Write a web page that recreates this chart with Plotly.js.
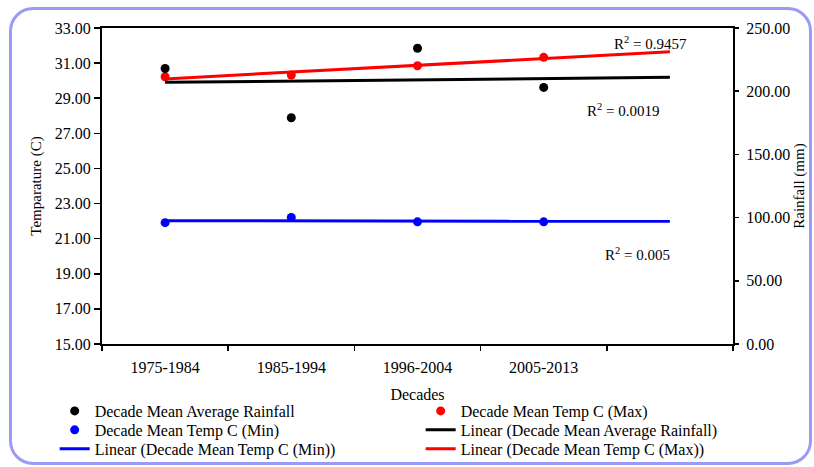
<!DOCTYPE html>
<html>
<head>
<meta charset="utf-8">
<script src="https://cdn.plot.ly/plotly-3.0.1.min.js"></script>
<style>
  html, body { margin: 0; padding: 0; background: #ffffff; }
  #wrap { position: relative; width: 814px; height: 467px; overflow: hidden; }
  #frame { position: absolute; left: 9px; top: 7px; width: 797px; height: 452px;
           border: 3px solid #9b9bf7; border-radius: 24px; box-sizing: content-box; }
  #chart { position: absolute; left: 0; top: 0; width: 814px; height: 490px; }
</style>
</head>
<body>
<div id="wrap">
  <div id="frame"></div>
  <div id="chart"></div>
</div>
<script>
// ---- data ----
const decades = ["1975-1984", "1985-1994", "1996-2004", "2005-2013"];
const trendEndCategory = " ";
const rainfall = [218, 179, 234, 203];          // Decade Mean Average Rainfall (mm)
const tempMax = [30.22, 30.32, 30.85, 31.33];   // Decade Mean Temp C (Max)
const tempMin = [21.91, 22.21, 21.96, 21.96];   // Decade Mean Temp C (Min)
const r2Max = "0.9457";
const r2Rain = "0.0019";
const r2Min = "0.005";

// linear trendline (least squares over category index), extended one period forward
function linearTrend(vals, extendTo) {
  const n = vals.length;
  const xs = vals.map((_, i) => i);
  const mx = xs.reduce((a, b) => a + b, 0) / n;
  const my = vals.reduce((a, b) => a + b, 0) / n;
  let sxy = 0, sxx = 0;
  for (let i = 0; i < n; i++) { sxy += (xs[i] - mx) * (vals[i] - my); sxx += (xs[i] - mx) ** 2; }
  const b = sxy / sxx, a = my - b * mx;
  return [a + b * 0, a + b * extendTo];
}
const allCats = decades.concat([trendEndCategory]);
const trendX = [decades[0], trendEndCategory];
const extIdx = decades.length;

const FONT = "Liberation Serif, Times New Roman, serif";

const traces = [
  { x: trendX, y: linearTrend(rainfall, extIdx), yaxis: "y2", mode: "lines", legend: "legend2",
    name: "Linear (Decade Mean Average Rainfall)", line: { color: "#000000", width: 3 }, legendrank: 2 },
  { x: trendX, y: linearTrend(tempMin, extIdx), mode: "lines", legend: "legend3",
    name: "Linear (Decade Mean Temp C (Min))", line: { color: "#0000ff", width: 3 }, legendrank: 1 },
  { x: trendX, y: linearTrend(tempMax, extIdx), mode: "lines", legend: "legend3",
    name: "Linear (Decade Mean Temp C (Max))", line: { color: "#ff0000", width: 3 }, legendrank: 2 },
  { x: decades, y: rainfall, yaxis: "y2", mode: "markers", legend: "legend",
    name: "Decade Mean Average Rainfall", marker: { color: "#000000", size: 9 }, legendrank: 1 },
  { x: decades, y: tempMax, mode: "markers", legend: "legend",
    name: "Decade Mean Temp C (Max)", marker: { color: "#ff0000", size: 9 }, legendrank: 2 },
  { x: decades, y: tempMin, mode: "markers", legend: "legend2",
    name: "Decade Mean Temp C (Min)", marker: { color: "#0000ff", size: 9 }, legendrank: 1 }
];

function legendRow(yPaper) {
  return {
    orientation: "h", x: -0.075, xanchor: "left", y: yPaper, yanchor: "middle",
    entrywidth: 321, entrywidthmode: "pixels",
    font: { family: FONT, size: 16 }, bgcolor: "rgba(0,0,0,0)", traceorder: "normal"
  };
}

const layout = {
  width: 814, height: 490,
  margin: { l: 102, r: 81, t: 28, b: 146 },
  paper_bgcolor: "rgba(0,0,0,0)",
  plot_bgcolor: "rgba(0,0,0,0)",
  font: { family: FONT, color: "#000000", size: 15 },
  showlegend: true,
  xaxis: {
    type: "category", categoryorder: "array", categoryarray: allCats,
    range: [-0.5, allCats.length - 0.5],
    tickson: "boundaries", ticks: "outside", ticklen: 5, tickwidth: 1.5, tickcolor: "#000",
    showline: true, linecolor: "#000", linewidth: 2, mirror: true,
    showgrid: false, zeroline: false, ticklabelstandoff: 8,
    tickfont: { family: FONT, size: 16 },
    title: { text: "Decades", font: { family: FONT, size: 16 }, standoff: 14 }
  },
  yaxis: {
    range: [15, 33], dtick: 2, tick0: 15, tickformat: ".2f",
    ticks: "outside", ticklen: 6, tickwidth: 1.5, tickcolor: "#000",
    showline: true, linecolor: "#000", linewidth: 2,
    showgrid: false, zeroline: false,
    tickfont: { family: FONT, size: 16 },
    title: { text: "Temparature (C)", font: { family: FONT, size: 15 }, standoff: 10 }
  },
  yaxis2: {
    overlaying: "y", side: "right",
    range: [0, 250], dtick: 50, tick0: 0, tickformat: ".2f",
    ticks: "outside", ticklen: 4, tickwidth: 1.5, tickcolor: "#000",
    showline: true, linecolor: "#000", linewidth: 2,
    showgrid: false, zeroline: false, ticklabelstandoff: 4,
    tickfont: { family: FONT, size: 16 },
    title: { text: "Rainfall (mm)", font: { family: FONT, size: 15 }, standoff: 4 }
  },
  legend: legendRow(-0.212),
  legend2: legendRow(-0.272),
  legend3: legendRow(-0.332),
  annotations: [
    { xref: "paper", yref: "paper", x: 0.808, y: 0.953, xanchor: "left", yanchor: "middle", showarrow: false,
      text: "R<sup>2</sup> = " + r2Max, font: { family: FONT, size: 15 } },
    { xref: "paper", yref: "paper", x: 0.765, y: 0.741, xanchor: "left", yanchor: "middle", showarrow: false,
      text: "R<sup>2</sup> = " + r2Rain, font: { family: FONT, size: 15 } },
    { xref: "paper", yref: "paper", x: 0.794, y: 0.285, xanchor: "left", yanchor: "middle", showarrow: false,
      text: "R<sup>2</sup> = " + r2Min, font: { family: FONT, size: 15 } }
  ]
};

Plotly.newPlot("chart", traces, layout, { displayModeBar: false, staticPlot: true });
</script>
</body>
</html>
